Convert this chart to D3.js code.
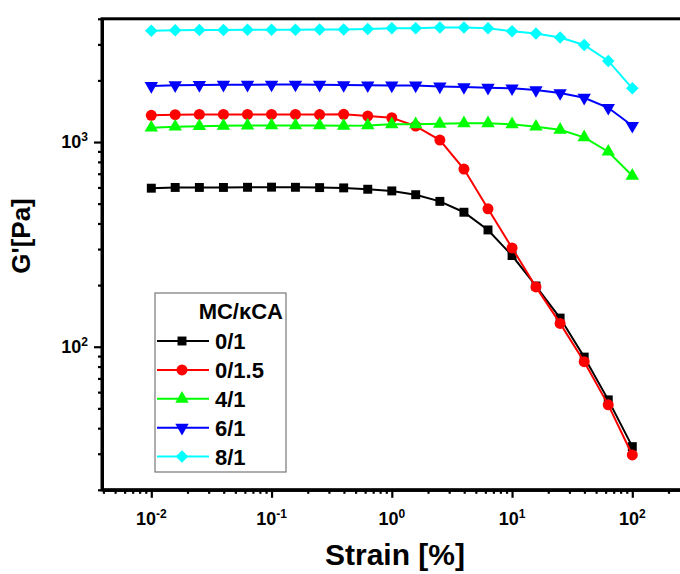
<!DOCTYPE html>
<html>
<head>
<meta charset="utf-8">
<script src="https://cdn.jsdelivr.net/npm/d3@7"></script>
<style>
  html,body{margin:0;padding:0;background:#fff}
  svg{display:block;font-family:"Liberation Sans",Arial,sans-serif;font-weight:bold}
</style>
</head>
<body>
<div id="chart"></div>
<script>
// strain amplitude [%]
const strain = [0.01, 0.0158, 0.0251, 0.0398, 0.0631, 0.1, 0.158, 0.251, 0.398, 0.631,
                1, 1.58, 2.51, 3.98, 6.31, 10, 15.8, 25.1, 39.8, 63.1, 100];

// G' [Pa] per MC/kCA ratio
const g_0_1   = [595, 600, 600, 600, 601, 602, 601, 599, 597, 588, 577, 553, 513, 454, 372, 279, 198, 138, 89, 55, 32.5];
const g_0_1_5 = [1350, 1360, 1365, 1365, 1365, 1365, 1365, 1362, 1366, 1340, 1314, 1197, 1023, 738, 472, 304, 196, 130, 84.5, 52, 29.6];
const g_4_1   = [1175, 1188, 1195, 1200, 1203, 1205, 1205, 1205, 1201, 1205, 1220, 1220, 1228, 1234, 1234, 1220, 1188, 1148, 1054, 897, 684];
const g_6_1   = [1880, 1895, 1900, 1905, 1905, 1910, 1910, 1905, 1898, 1892, 1890, 1890, 1870, 1857, 1842, 1830, 1795, 1735, 1646, 1470, 1201];
const g_8_1   = [3500, 3520, 3525, 3530, 3535, 3540, 3540, 3545, 3550, 3570, 3600, 3600, 3630, 3630, 3600, 3480, 3390, 3240, 2980, 2490, 1830];

const seriesNames = ['0/1', '0/1.5', '4/1', '6/1', '8/1'];
const seriesVals  = [g_0_1, g_0_1_5, g_4_1, g_6_1, g_8_1];

const xMajor = [0.01, 0.1, 1, 10, 100];
const xExp   = ['-2', '-1', '0', '1', '2'];
const yMajor = [100, 1000];
const yExp   = ['2', '3'];

const COLORS  = ['#000000', '#ff0000', '#00ff00', '#0000ff', '#00ffff'];
const SYMBOLS = [
  {t: d3.symbolSquare,   s: 80,  rot: 0},
  {t: d3.symbolCircle,   s: 95,  rot: 0},
  {t: d3.symbolTriangle, s: 78,  rot: 0},
  {t: d3.symbolTriangle, s: 78,  rot: 180},
  {t: d3.symbolSquare,   s: 78,  rot: 45},
];

const W = 680, H = 574;
const svg = d3.select('#chart').append('svg').attr('width', W).attr('height', H);

const x = d3.scaleLog().domain([Math.pow(10, -2.41), Math.pow(10, 2.41)]).range([102, 681.6]);
const y = d3.scaleLog().domain([20, 4000]).range([489.8, 18.8]);
const [x0, x1] = x.range(), [yb, yt] = y.range();

// minor tick values
const minors = (lo, hi) => {
  const out = [];
  for (let e = Math.floor(Math.log10(lo)); e <= Math.ceil(Math.log10(hi)); e++)
    for (let k = 2; k <= 9; k++) { const v = k * Math.pow(10, e); if (v >= lo && v <= hi) out.push(v); }
  return out;
};

// frame
svg.append('rect').attr('x', x0).attr('y', yt).attr('width', x1 - x0).attr('height', yb - yt)
  .attr('fill', 'none').attr('stroke', '#000').attr('stroke-width', 3);

/* ── X AXIS ── */
const gx = svg.append('g').attr('transform', `translate(0,${yb})`);
gx.append('g').call(d3.axisBottom(x).tickValues(minors(...x.domain())).tickSize(4).tickSizeOuter(0).tickFormat(''));
gx.append('g').call(d3.axisBottom(x).tickValues(xMajor).tickSize(8).tickSizeOuter(0).tickFormat(''));
gx.selectAll('.domain').attr('stroke-width', 3);
gx.selectAll('.tick line').attr('stroke-width', 2.2);
xMajor.forEach((v, i) => {
  const t = gx.append('text').attr('x', x(v)).attr('y', 35).attr('text-anchor', 'middle')
    .attr('font-size', '18px').attr('fill', '#000');
  t.append('tspan').text('10');
  t.append('tspan').attr('font-size', '12px').attr('dy', -7).text(xExp[i]);
});

/* ── Y AXIS ── */
const gy = svg.append('g').attr('transform', `translate(${x0},0)`);
gy.append('g').call(d3.axisLeft(y).tickValues(minors(...y.domain())).tickSize(4).tickSizeOuter(0).tickFormat(''));
gy.append('g').call(d3.axisLeft(y).tickValues(yMajor).tickSize(8).tickSizeOuter(0).tickFormat(''));
gy.selectAll('.domain').attr('stroke-width', 3);
gy.selectAll('.tick line').attr('stroke-width', 2.2);
yMajor.forEach((v, i) => {
  const t = gy.append('text').attr('x', -14).attr('y', y(v) + 6).attr('text-anchor', 'end')
    .attr('font-size', '18px').attr('fill', '#000');
  t.append('tspan').text('10');
  t.append('tspan').attr('font-size', '12px').attr('dy', -7).text(yExp[i]);
});

// axis titles
svg.append('text').attr('x', 395).attr('y', 565).attr('text-anchor', 'middle')
  .attr('font-size', '30px').text('Strain [%]');
svg.append('text').attr('transform', 'translate(30,236) rotate(-90)').attr('text-anchor', 'middle')
  .attr('font-size', '26px').text("G'[Pa]");

/* ── SERIES ── */
const line = d3.line().x(d => x(d[0])).y(d => y(d[1]));
const sym = (i) => d3.symbol().type(SYMBOLS[i].t).size(SYMBOLS[i].s)();

seriesVals.forEach((vals, i) => {
  const pts = strain.map((s, j) => [s, vals[j]]);
  const g = svg.append('g');
  g.append('path').attr('d', line(pts)).attr('fill', 'none')
    .attr('stroke', COLORS[i]).attr('stroke-width', 2);
  g.selectAll('path.m').data(pts).join('path').attr('class', 'm')
    .attr('d', sym(i)).attr('fill', COLORS[i])
    .attr('transform', d => `translate(${x(d[0])},${y(d[1])}) rotate(${SYMBOLS[i].rot})`);
});

/* ── LEGEND ── */
const lg = svg.append('g').attr('transform', 'translate(155,293)');
lg.append('rect').attr('width', 131).attr('height', 179)
  .attr('fill', '#fff').attr('stroke', '#777').attr('stroke-width', 1.2);
lg.append('text').attr('x', 128).attr('y', 26).attr('text-anchor', 'end')
  .attr('font-size', '22px').text('MC/\u03BACA');
seriesNames.forEach((n, i) => {
  const cy = 48 + i * 28.9;
  lg.append('line').attr('x1', 2).attr('x2', 54).attr('y1', cy).attr('y2', cy)
    .attr('stroke', COLORS[i]).attr('stroke-width', 2);
  lg.append('path').attr('d', sym(i)).attr('fill', COLORS[i])
    .attr('transform', `translate(27,${cy}) rotate(${SYMBOLS[i].rot})`);
  lg.append('text').attr('x', 60).attr('y', cy + 8).attr('font-size', '22px').text(n);
});
</script>
</body>
</html>
